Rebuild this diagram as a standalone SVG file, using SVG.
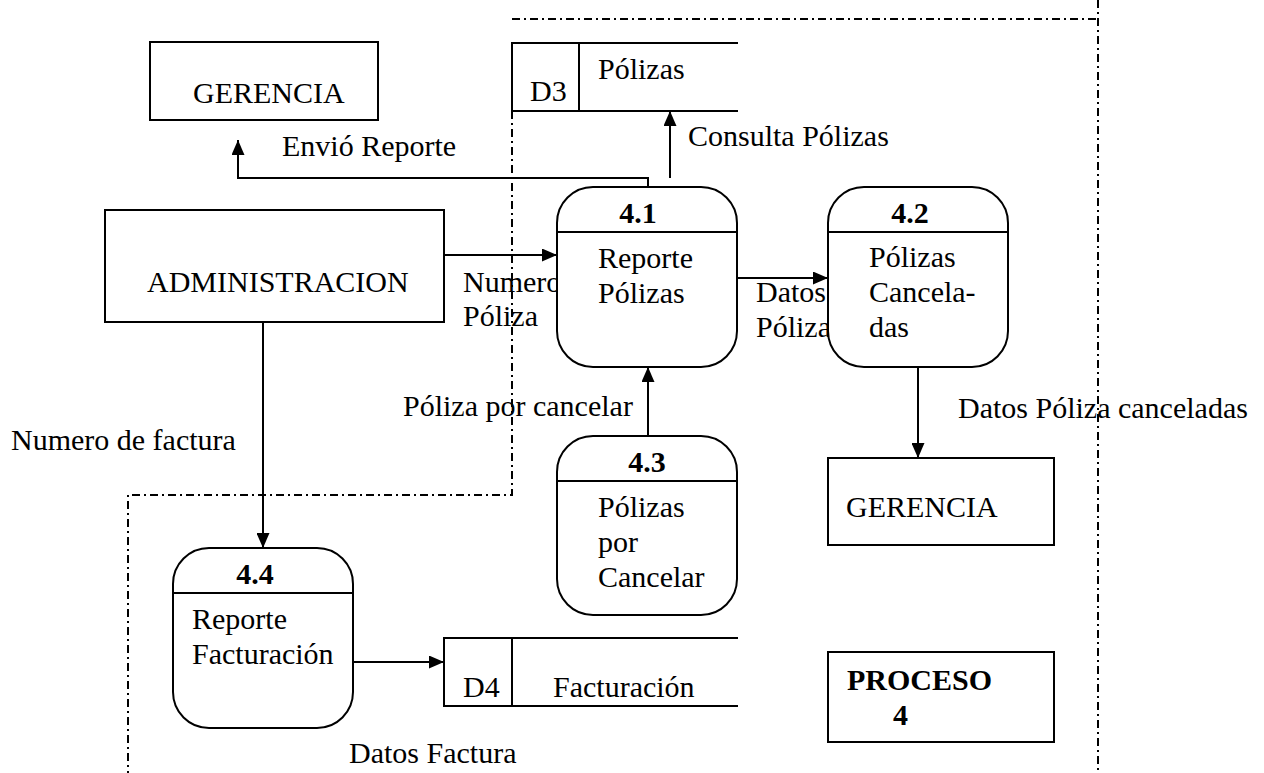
<svg xmlns="http://www.w3.org/2000/svg" width="1264" height="773" viewBox="0 0 1264 773">
<style>
text{font-family:'Liberation Serif','Times New Roman',serif;font-size:30px;fill:#000}
.b{font-weight:bold}
.box{fill:#fff;stroke:#000;stroke-width:2}
.ln{fill:none;stroke:#000;stroke-width:2}
.flow{fill:none;stroke:#000;stroke-width:2;marker-end:url(#ah)}
.bd{fill:none;stroke:#000;stroke-width:2;stroke-dasharray:8 4 2 4}
</style>
<defs>
<marker id="ah" markerUnits="userSpaceOnUse" markerWidth="15" markerHeight="13" refX="15" refY="6.5" orient="auto">
<path d="M0,0 L15,6.5 L0,13 Z" fill="#000"/>
</marker>
</defs>
<g id="boundary">
<path class="bd" d="M512,19 H1098"/>
<path class="bd" d="M1098,0 V773"/>
<path class="bd" d="M512,111 V495 H128 V773"/>
</g>
<g id="connectors">
<path class="flow" d="M670,178 V111"/>
<path class="flow" d="M648,200 V178 H238 V140"/>
<path class="flow" d="M444,255 H557"/>
<path class="flow" d="M737,278 H828"/>
<path class="flow" d="M918,367 V458"/>
<path class="flow" d="M648,436 V367"/>
<path class="flow" d="M263,322 V548"/>
<path class="flow" d="M353,662 H444"/>
</g>
<g id="labels">
<text x="688" y="146">Consulta Pólizas</text>
<text x="282" y="156">Envió Reporte</text>
<text x="463" y="292">Numero</text>
<text x="463" y="326">Póliza</text>
<text x="756" y="302">Datos</text>
<text x="756" y="337">Póliza</text>
<text x="958" y="418">Datos Póliza canceladas</text>
<text x="403" y="416">Póliza por cancelar</text>
<text x="11" y="450">Numero de factura</text>
<text x="349" y="763">Datos Factura</text>
</g>
<g id="gerencia1">
<rect class="box" x="150" y="42" width="228" height="78"/>
<text x="193" y="103">GERENCIA</text>
</g>
<g id="d3">
<path class="ln" d="M738,43 H512 V111 H738 M579,43 V111"/>
<text x="530" y="101">D3</text>
<text x="598" y="79">Pólizas</text>
</g>
<g id="admin">
<rect class="box" x="105" y="210" width="339" height="112"/>
<text x="147" y="292">ADMINISTRACION</text>
</g>
<g id="p41">
<rect class="box" x="557" y="187" width="180" height="180" rx="36"/>
<path class="ln" d="M557,232 H737"/>
<text class="b" x="638" y="223" text-anchor="middle">4.1</text>
<text x="598" y="268">Reporte</text>
<text x="598" y="303">Pólizas</text>
</g>
<g id="p42">
<rect class="box" x="828" y="187" width="180" height="180" rx="36"/>
<path class="ln" d="M828,232 H1008"/>
<text class="b" x="910" y="223" text-anchor="middle">4.2</text>
<text x="869" y="267">Pólizas</text>
<text x="869" y="302">Cancela-</text>
<text x="869" y="337">das</text>
</g>
<g id="gerencia2">
<rect class="box" x="828" y="458" width="226" height="87"/>
<text x="846" y="517">GERENCIA</text>
</g>
<g id="p43">
<rect class="box" x="557" y="436" width="180" height="179" rx="36"/>
<path class="ln" d="M557,481 H737"/>
<text class="b" x="647" y="472" text-anchor="middle">4.3</text>
<text x="598" y="517">Pólizas</text>
<text x="598" y="552">por</text>
<text x="598" y="587">Cancelar</text>
</g>
<g id="p44">
<rect class="box" x="173" y="548" width="180" height="180" rx="36"/>
<path class="ln" d="M173,593 H353"/>
<text class="b" x="255" y="584" text-anchor="middle">4.4</text>
<text x="192" y="629">Reporte</text>
<text x="192" y="664">Facturación</text>
</g>
<g id="d4">
<path class="ln" d="M738,638 H444 V706 H738 M512,638 V706"/>
<text x="463" y="697">D4</text>
<text x="553" y="697">Facturación</text>
</g>
<g id="proceso">
<rect class="box" x="828" y="652" width="226" height="90"/>
<text class="b" x="847" y="690">PROCESO</text>
<text class="b" x="893" y="725">4</text>
</g>
</svg>
